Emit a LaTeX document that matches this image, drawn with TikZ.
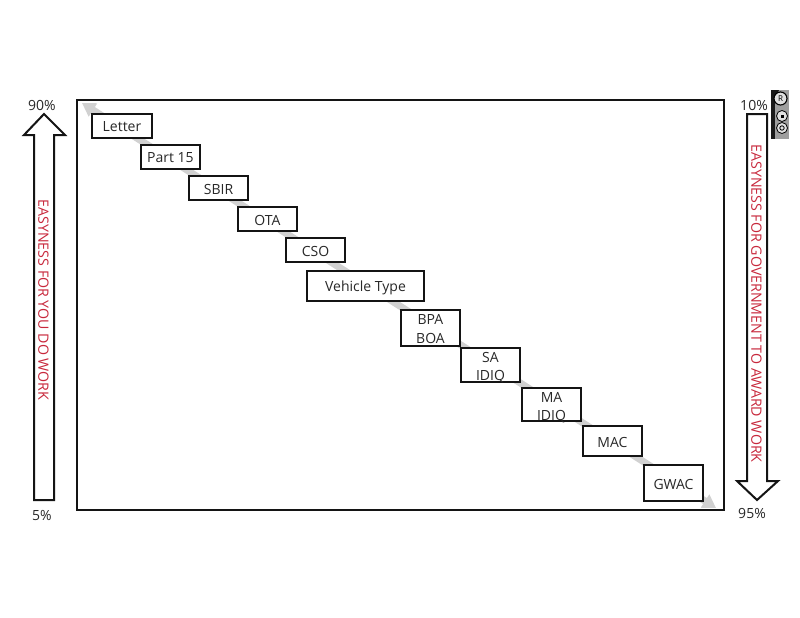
\documentclass[tikz,border=0pt]{standalone}
\usepackage{fontspec}
\setmainfont{Open Sans}
\usetikzlibrary{arrows.meta}
\definecolor{lab}{RGB}{200,40,60}
\definecolor{txt}{RGB}{40,40,40}
\definecolor{ln}{RGB}{20,20,20}
\tikzset{
  x=1pt,y=-1pt,
  every node/.style={font=\fontsize{14}{18}\selectfont,text=txt},
  box/.style={draw=ln,line width=2pt,fill=white,align=center,inner sep=0pt},
  pct/.style={font=\fontsize{14}{16}\selectfont},
  blockarrow/.style={draw=ln,line width=2pt,fill=white,line join=miter},
  vlabel/.style={text=lab,font=\fontsize{14.2}{15}\selectfont,inner sep=0pt},
  ccmark/.style={draw=black,line width=.8pt,fill=none}
}
\newcommand{\rb}[2]{\raisebox{-#1pt}[\height][\depth]{#2}}
\newcommand{\bx}[6]{\node[box,minimum width=#4-#2,minimum height=#5-#3] (#1) at ({(#2+#4)/2},{(#3+#5)/2}) {#6};}
\begin{document}
\begin{tikzpicture}
\useasboundingbox (0,0) rectangle (800,618);
\fill[white] (0,0) rectangle (800,618);
\node[draw=ln,line width=2pt,minimum width=647pt,minimum height=410pt,inner sep=0pt] (frame) at (400.5,305) {};
\coordinate (gs) at (82,103);
\coordinate (ge) at (716,508);
\draw[draw=black!18,line width=7pt,{Triangle[length=13pt,width=15pt]}-{Triangle[length=13pt,width=15pt]}] (gs) -- (ge);
\bx{letter}{92}{114}{152}{138}{\rb{1}{Letter}}
\bx{part}{141}{145}{200}{169}{\rb{1}{Part 15}}
\bx{sbir}{189}{176}{248}{200}{\rb{1}{SBIR}}
\bx{ota}{238}{207}{297}{231}{\rb{1}{OTA}}
\bx{cso}{286}{238}{345}{262}{\rb{1}{CSO}}
\bx{vehicle}{307}{271}{424}{301}{\rb{2}{Vehicle Type}}
\bx{bpa}{401}{310}{460}{346}{\rb{1}{BPA}\\[1pt]\rb{1}{BOA}}
\bx{sa}{461}{348}{520}{382}{\rb{2.5}{SA}\\[0pt]\rb{2.5}{IDIQ}}
\bx{ma}{522}{388}{581}{421}{\rb{3}{MA}\\[0pt]\rb{3}{IDIQ}}
\bx{mac}{583}{426}{642}{456}{\rb{1}{MAC}}
\bx{gwac}{644}{465}{703}{501}{\rb{1}{GWAC}}
\draw[blockarrow] (34,500) -- (34,135) -- (24,135) -- (44,114) -- (65,135) -- (54,135) -- (54,500) -- cycle;
\draw[blockarrow] (747,114) -- (747,481) -- (737,481) -- (757,500) -- (778,481) -- (767,481) -- (767,114) -- cycle;
\node[vlabel,rotate=-90] (lv) at (43.5,300) {EASYNESS FOR YOU DO WORK};
\node[vlabel,rotate=-90] (rv) at (756.5,303.5) {EASYNESS FOR GOVERNMENT TO AWARD WORK};
\node[pct] (p90) at (42,105.5) {90\%};
\node[pct] (p5) at (42,515) {5\%};
\node[pct] (p10) at (754,105.5) {10\%};
\node[pct] (p95) at (752,513) {95\%};
\fill[black!38] (771,90) rectangle (789,139);
\fill[black!90] (771,90) rectangle (775,139);
\fill[black!90] (771,90) -- (779,90) -- (771,108) -- cycle;
\draw[ccmark,line width=1.1pt,fill=black!12] (780.5,98.5) circle (6.5pt);
\node[font=\fontsize{8}{8}\selectfont,inner sep=0pt,text=black] (ccr) at (780.5,98.5) {R};
\draw[ccmark,fill=black!12] (782,116) circle (5.5pt);
\fill[black] (780.5,115) rectangle (783.5,117.5);
\draw[ccmark,fill=black!12] (782,128) circle (5.5pt);
\draw[ccmark] (782,128) circle (2.2pt);
\end{tikzpicture}
\end{document}
